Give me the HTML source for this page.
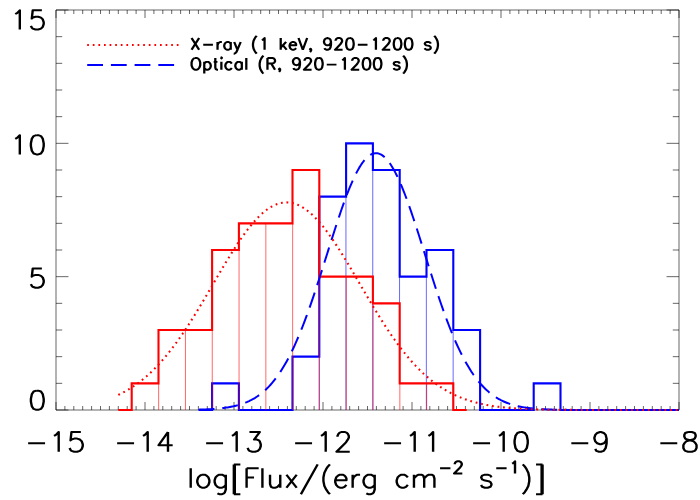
<!DOCTYPE html>
<html><head><meta charset="utf-8"><title>Flux histogram</title>
<style>html,body{margin:0;padding:0;background:#fff;font-family:"Liberation Sans",sans-serif}svg{display:block}</style>
</head><body>
<svg width="700" height="500" viewBox="0 0 700 500" role="img" aria-label="Histogram of log[Flux/(erg cm^-2 s^-1)]: X-ray (1 keV, 920-1200 s) and Optical (R, 920-1200 s)">
<desc>X-ray (1 keV, 920-1200 s); Optical (R, 920-1200 s); x axis log[Flux/(erg cm-2 s-1)] from -15 to -8; y axis 0 to 15</desc>
<rect width="700" height="500" fill="#fff"/>
<path d="M56.00 10.00 H679.00 V410.00 H56.00 Z M56.00 410.00 v-8.00 M56.00 10.00 v8.00 M64.90 410.00 v-4.00 M64.90 10.00 v4.00 M73.80 410.00 v-4.00 M73.80 10.00 v4.00 M82.70 410.00 v-4.00 M82.70 10.00 v4.00 M91.60 410.00 v-4.00 M91.60 10.00 v4.00 M100.50 410.00 v-4.00 M100.50 10.00 v4.00 M109.40 410.00 v-4.00 M109.40 10.00 v4.00 M118.30 410.00 v-4.00 M118.30 10.00 v4.00 M127.20 410.00 v-4.00 M127.20 10.00 v4.00 M136.10 410.00 v-4.00 M136.10 10.00 v4.00 M145.00 410.00 v-8.00 M145.00 10.00 v8.00 M153.90 410.00 v-4.00 M153.90 10.00 v4.00 M162.80 410.00 v-4.00 M162.80 10.00 v4.00 M171.70 410.00 v-4.00 M171.70 10.00 v4.00 M180.60 410.00 v-4.00 M180.60 10.00 v4.00 M189.50 410.00 v-4.00 M189.50 10.00 v4.00 M198.40 410.00 v-4.00 M198.40 10.00 v4.00 M207.30 410.00 v-4.00 M207.30 10.00 v4.00 M216.20 410.00 v-4.00 M216.20 10.00 v4.00 M225.10 410.00 v-4.00 M225.10 10.00 v4.00 M234.00 410.00 v-8.00 M234.00 10.00 v8.00 M242.90 410.00 v-4.00 M242.90 10.00 v4.00 M251.80 410.00 v-4.00 M251.80 10.00 v4.00 M260.70 410.00 v-4.00 M260.70 10.00 v4.00 M269.60 410.00 v-4.00 M269.60 10.00 v4.00 M278.50 410.00 v-4.00 M278.50 10.00 v4.00 M287.40 410.00 v-4.00 M287.40 10.00 v4.00 M296.30 410.00 v-4.00 M296.30 10.00 v4.00 M305.20 410.00 v-4.00 M305.20 10.00 v4.00 M314.10 410.00 v-4.00 M314.10 10.00 v4.00 M323.00 410.00 v-8.00 M323.00 10.00 v8.00 M331.90 410.00 v-4.00 M331.90 10.00 v4.00 M340.80 410.00 v-4.00 M340.80 10.00 v4.00 M349.70 410.00 v-4.00 M349.70 10.00 v4.00 M358.60 410.00 v-4.00 M358.60 10.00 v4.00 M367.50 410.00 v-4.00 M367.50 10.00 v4.00 M376.40 410.00 v-4.00 M376.40 10.00 v4.00 M385.30 410.00 v-4.00 M385.30 10.00 v4.00 M394.20 410.00 v-4.00 M394.20 10.00 v4.00 M403.10 410.00 v-4.00 M403.10 10.00 v4.00 M412.00 410.00 v-8.00 M412.00 10.00 v8.00 M420.90 410.00 v-4.00 M420.90 10.00 v4.00 M429.80 410.00 v-4.00 M429.80 10.00 v4.00 M438.70 410.00 v-4.00 M438.70 10.00 v4.00 M447.60 410.00 v-4.00 M447.60 10.00 v4.00 M456.50 410.00 v-4.00 M456.50 10.00 v4.00 M465.40 410.00 v-4.00 M465.40 10.00 v4.00 M474.30 410.00 v-4.00 M474.30 10.00 v4.00 M483.20 410.00 v-4.00 M483.20 10.00 v4.00 M492.10 410.00 v-4.00 M492.10 10.00 v4.00 M501.00 410.00 v-8.00 M501.00 10.00 v8.00 M509.90 410.00 v-4.00 M509.90 10.00 v4.00 M518.80 410.00 v-4.00 M518.80 10.00 v4.00 M527.70 410.00 v-4.00 M527.70 10.00 v4.00 M536.60 410.00 v-4.00 M536.60 10.00 v4.00 M545.50 410.00 v-4.00 M545.50 10.00 v4.00 M554.40 410.00 v-4.00 M554.40 10.00 v4.00 M563.30 410.00 v-4.00 M563.30 10.00 v4.00 M572.20 410.00 v-4.00 M572.20 10.00 v4.00 M581.10 410.00 v-4.00 M581.10 10.00 v4.00 M590.00 410.00 v-8.00 M590.00 10.00 v8.00 M598.90 410.00 v-4.00 M598.90 10.00 v4.00 M607.80 410.00 v-4.00 M607.80 10.00 v4.00 M616.70 410.00 v-4.00 M616.70 10.00 v4.00 M625.60 410.00 v-4.00 M625.60 10.00 v4.00 M634.50 410.00 v-4.00 M634.50 10.00 v4.00 M643.40 410.00 v-4.00 M643.40 10.00 v4.00 M652.30 410.00 v-4.00 M652.30 10.00 v4.00 M661.20 410.00 v-4.00 M661.20 10.00 v4.00 M670.10 410.00 v-4.00 M670.10 10.00 v4.00 M679.00 410.00 v-8.00 M679.00 10.00 v8.00 M56.00 410.00 h12.46 M679.00 410.00 h-12.46 M56.00 383.33 h6.23 M679.00 383.33 h-6.23 M56.00 356.67 h6.23 M679.00 356.67 h-6.23 M56.00 330.00 h6.23 M679.00 330.00 h-6.23 M56.00 303.33 h6.23 M679.00 303.33 h-6.23 M56.00 276.67 h12.46 M679.00 276.67 h-12.46 M56.00 250.00 h6.23 M679.00 250.00 h-6.23 M56.00 223.33 h6.23 M679.00 223.33 h-6.23 M56.00 196.67 h6.23 M679.00 196.67 h-6.23 M56.00 170.00 h6.23 M679.00 170.00 h-6.23 M56.00 143.33 h12.46 M679.00 143.33 h-12.46 M56.00 116.67 h6.23 M679.00 116.67 h-6.23 M56.00 90.00 h6.23 M679.00 90.00 h-6.23 M56.00 63.33 h6.23 M679.00 63.33 h-6.23 M56.00 36.67 h6.23 M679.00 36.67 h-6.23 M56.00 10.00 h12.46 M679.00 10.00 h-12.46" stroke="#000" stroke-width="0.60" fill="none"/>
<g id="hist">
<path d="M319.15 410.00 V356.67 M345.95 410.00 V196.67 M372.75 410.00 V170.00 M399.55 383.33 V276.67 M426.35 410.00 V276.67 M453.15 410.00 V330.00" stroke="#00f" stroke-width="0.60" fill="none"/>
<path d="M198.70 410.00 H212.10 V383.33 H238.90 V410.00 H265.70 H292.50 V356.67 H319.30 V196.67 H346.10 V143.33 H372.90 V170.00 H399.70 V276.67 H426.50 V250.00 H453.30 V330.00 H480.10 V410.00 H506.90 H533.70 V383.33 H560.50 V410.00 H587.30 H679.00" stroke="#00f" stroke-width="2.10" fill="none" stroke-linejoin="miter" stroke-linecap="butt"/>
<path d="M158.65 410.00 V383.33 M185.45 410.00 V330.00 M212.25 410.00 V330.00 M239.05 410.00 V250.00 M265.85 410.00 V223.33 M292.65 410.00 V223.33 M319.45 410.00 V276.67 M346.25 410.00 V276.67 M373.05 410.00 V303.33 M399.85 410.00 V383.33 M426.65 410.00 V383.33" stroke="#f00" stroke-width="0.60" fill="none"/>
<path d="M118.30 410.00 H131.70 V383.33 H158.50 V330.00 H185.30 H212.10 V250.00 H238.90 V223.33 H265.70 H292.50 V170.00 H319.30 V276.67 H346.10 H372.90 V303.33 H399.70 V383.33 H426.50 H453.30 V410.00 H466.70" stroke="#f00" stroke-width="2.10" fill="none" stroke-linejoin="miter" stroke-linecap="butt"/>
</g>
<path d="M198.70 409.64 L199.90 409.60 L201.10 409.56 L202.30 409.52 L203.50 409.48 L204.70 409.44 L205.90 409.38 L207.11 409.33 L208.31 409.27 L209.51 409.21 L210.71 409.14 L211.91 409.07 L213.11 408.99 L214.31 408.90 L215.51 408.81 L216.71 408.71 L217.91 408.60 L219.11 408.49 L220.31 408.36 L221.51 408.23 L222.71 408.09 L223.92 407.94 L225.12 407.77 L226.32 407.60 L227.52 407.41 L228.72 407.21 L229.92 407.00 L231.12 406.77 L232.32 406.53 L233.52 406.28 L234.72 406.00 L235.92 405.71 L237.12 405.40 L238.32 405.07 L239.53 404.72 L240.73 404.35 L241.93 403.95 L243.13 403.53 L244.33 403.09 L245.53 402.62 L246.73 402.13 L247.93 401.60 L249.13 401.05 L250.33 400.46 L251.53 399.85 L252.73 399.20 L253.93 398.51 L255.14 397.79 L256.34 397.03 L257.54 396.24 L258.74 395.40 L259.94 394.52 L261.14 393.60 L262.34 392.63 L263.54 391.62 L264.74 390.56 L265.94 389.45 L267.14 388.29 L268.34 387.08 L269.54 385.82 L270.74 384.51 L271.95 383.13 L273.15 381.70 L274.35 380.22 L275.55 378.67 L276.75 377.06 L277.95 375.40 L279.15 373.66 L280.35 371.87 L281.55 370.01 L282.75 368.09 L283.95 366.09 L285.15 364.04 L286.35 361.91 L287.56 359.72 L288.76 357.46 L289.96 355.13 L291.16 352.73 L292.36 350.26 L293.56 347.72 L294.76 345.12 L295.96 342.44 L297.16 339.70 L298.36 336.89 L299.56 334.01 L300.76 331.07 L301.96 328.07 L303.17 325.00 L304.37 321.87 L305.57 318.67 L306.77 315.42 L307.97 312.12 L309.17 308.76 L310.37 305.34 L311.57 301.88 L312.77 298.36 L313.97 294.81 L315.17 291.21 L316.37 287.57 L317.57 283.90 L318.77 280.20 L319.98 276.46 L321.18 272.70 L322.38 268.93 L323.58 265.13 L324.78 261.32 L325.98 257.51 L327.18 253.69 L328.38 249.87 L329.58 246.05 L330.78 242.25 L331.98 238.46 L333.18 234.69 L334.38 230.94 L335.59 227.23 L336.79 223.55 L337.99 219.91 L339.19 216.32 L340.39 212.78 L341.59 209.29 L342.79 205.87 L343.99 202.51 L345.19 199.22 L346.39 196.01 L347.59 192.88 L348.79 189.84 L349.99 186.89 L351.20 184.04 L352.40 181.28 L353.60 178.64 L354.80 176.10 L356.00 173.68 L357.20 171.38 L358.40 169.19 L359.60 167.14 L360.80 165.22 L362.00 163.42 L363.20 161.77 L364.40 160.25 L365.60 158.88 L366.80 157.65 L368.01 156.56 L369.21 155.63 L370.41 154.84 L371.61 154.21 L372.81 153.73 L374.01 153.40 L375.21 153.23 L376.41 153.21 L377.61 153.35 L378.81 153.64 L380.01 154.08 L381.21 154.68 L382.41 155.43 L383.62 156.33 L384.82 157.37 L386.02 158.57 L387.22 159.91 L388.42 161.39 L389.62 163.01 L390.82 164.77 L392.02 166.67 L393.22 168.69 L394.42 170.84 L395.62 173.11 L396.82 175.51 L398.02 178.02 L399.23 180.64 L400.43 183.37 L401.63 186.20 L402.83 189.12 L404.03 192.14 L405.23 195.25 L406.43 198.44 L407.63 201.71 L408.83 205.05 L410.03 208.46 L411.23 211.93 L412.43 215.46 L413.63 219.04 L414.83 222.67 L416.04 226.34 L417.24 230.05 L418.44 233.79 L419.64 237.55 L420.84 241.33 L422.04 245.14 L423.24 248.95 L424.44 252.77 L425.64 256.59 L426.84 260.40 L428.04 264.22 L429.24 268.01 L430.44 271.80 L431.65 275.56 L432.85 279.30 L434.05 283.01 L435.25 286.69 L436.45 290.34 L437.65 293.95 L438.85 297.51 L440.05 301.04 L441.25 304.51 L442.45 307.94 L443.65 311.31 L444.85 314.63 L446.05 317.90 L447.26 321.10 L448.46 324.25 L449.66 327.33 L450.86 330.36 L452.06 333.31 L453.26 336.20 L454.46 339.03 L455.66 341.79 L456.86 344.48 L458.06 347.10 L459.26 349.66 L460.46 352.14 L461.66 354.56 L462.87 356.90 L464.07 359.18 L465.27 361.39 L466.47 363.53 L467.67 365.61 L468.87 367.61 L470.07 369.55 L471.27 371.43 L472.47 373.24 L473.67 374.98 L474.87 376.67 L476.07 378.29 L477.27 379.85 L478.47 381.35 L479.68 382.79 L480.88 384.18 L482.08 385.51 L483.28 386.79 L484.48 388.01 L485.68 389.18 L486.88 390.30 L488.08 391.37 L489.28 392.39 L490.48 393.37 L491.68 394.30 L492.88 395.19 L494.08 396.04 L495.29 396.84 L496.49 397.61 L497.69 398.34 L498.89 399.03 L500.09 399.69 L501.29 400.32 L502.49 400.91 L503.69 401.47 L504.89 402.00 L506.09 402.50 L507.29 402.98 L508.49 403.43 L509.69 403.85 L510.89 404.25 L512.10 404.63 L513.30 404.99 L514.50 405.32 L515.70 405.64 L516.90 405.93 L518.10 406.21 L519.30 406.47 L520.50 406.72 L521.70 406.95 L522.90 407.16 L524.10 407.37 L525.30 407.56 L526.50 407.73 L527.71 407.90 L528.91 408.05 L530.11 408.20 L531.31 408.33 L532.51 408.46 L533.71 408.57 L534.91 408.68 L536.11 408.78 L537.31 408.88 L538.51 408.97 L539.71 409.05 L540.91 409.12 L542.11 409.19 L543.32 409.26 L544.52 409.32 L545.72 409.37 L546.92 409.42 L548.12 409.47 L549.32 409.51 L550.52 409.56 L551.72 409.59 L552.92 409.63 L554.12 409.66 L555.32 409.69 L556.52 409.72 L557.72 409.74 L558.92 409.76 L560.13 409.78 L561.33 409.80 L562.53 409.82 L563.73 409.84 L564.93 409.85 L566.13 409.86 L567.33 409.88 L568.53 409.89 L569.73 409.90 L570.93 409.91 L572.13 409.92 L573.33 409.92 L574.53 409.93 L575.74 409.94 L576.94 409.94 L578.14 409.95 L579.34 409.95 L580.54 409.96 L581.74 409.96 L582.94 409.97 L584.14 409.97 L585.34 409.97 L586.54 409.98 L587.74 409.98 L588.94 409.98 L590.14 409.98 L591.35 409.98 L592.55 409.99 L593.75 409.99 L594.95 409.99 L596.15 409.99 L597.35 409.99 L598.55 409.99 L599.75 409.99 L600.95 409.99 L602.15 409.99 L603.35 409.99 L604.55 410.00 L605.75 410.00 L606.96 410.00 L608.16 410.00 L609.36 410.00 L610.56 410.00 L611.76 410.00 L612.96 410.00 L614.16 410.00 L615.36 410.00 L616.56 410.00 L617.76 410.00 L618.96 410.00 L620.16 410.00 L621.36 410.00 L622.56 410.00 L623.77 410.00 L624.97 410.00 L626.17 410.00 L627.37 410.00 L628.57 410.00 L629.77 410.00 L630.97 410.00 L632.17 410.00 L633.37 410.00 L634.57 410.00 L635.77 410.00 L636.97 410.00 L638.17 410.00 L639.38 410.00 L640.58 410.00 L641.78 410.00 L642.98 410.00 L644.18 410.00 L645.38 410.00 L646.58 410.00 L647.78 410.00 L648.98 410.00 L650.18 410.00 L651.38 410.00 L652.58 410.00 L653.78 410.00 L654.99 410.00 L656.19 410.00 L657.39 410.00 L658.59 410.00 L659.79 410.00 L660.99 410.00 L662.19 410.00 L663.39 410.00 L664.59 410.00 L665.79 410.00 L666.99 410.00 L668.19 410.00 L669.39 410.00 L670.59 410.00 L671.80 410.00 L673.00 410.00 L674.20 410.00 L675.40 410.00 L676.60 410.00 L677.80 410.00 L679.00 410.00" stroke="#00f" stroke-width="2" fill="none" stroke-dasharray="15.8 7.86"/>
<path d="M118.30 394.95 L119.70 394.28 L121.10 393.58 L122.51 392.87 L123.91 392.12 L125.31 391.35 L126.71 390.56 L128.11 389.74 L129.51 388.89 L130.92 388.02 L132.32 387.11 L133.72 386.18 L135.12 385.22 L136.52 384.23 L137.92 383.21 L139.33 382.16 L140.73 381.08 L142.13 379.97 L143.53 378.82 L144.93 377.65 L146.33 376.44 L147.74 375.20 L149.14 373.93 L150.54 372.63 L151.94 371.29 L153.34 369.92 L154.75 368.51 L156.15 367.07 L157.55 365.60 L158.95 364.10 L160.35 362.56 L161.75 360.98 L163.16 359.38 L164.56 357.74 L165.96 356.06 L167.36 354.36 L168.76 352.61 L170.16 350.84 L171.57 349.04 L172.97 347.20 L174.37 345.33 L175.77 343.43 L177.17 341.49 L178.58 339.53 L179.98 337.54 L181.38 335.52 L182.78 333.47 L184.18 331.39 L185.58 329.28 L186.99 327.15 L188.39 325.00 L189.79 322.82 L191.19 320.61 L192.59 318.39 L193.99 316.14 L195.40 313.87 L196.80 311.58 L198.20 309.28 L199.60 306.96 L201.00 304.62 L202.40 302.28 L203.81 299.91 L205.21 297.54 L206.61 295.16 L208.01 292.77 L209.41 290.37 L210.82 287.97 L212.22 285.57 L213.62 283.17 L215.02 280.77 L216.42 278.36 L217.82 275.97 L219.23 273.58 L220.63 271.20 L222.03 268.82 L223.43 266.46 L224.83 264.12 L226.23 261.78 L227.64 259.47 L229.04 257.18 L230.44 254.90 L231.84 252.66 L233.24 250.43 L234.65 248.24 L236.05 246.07 L237.45 243.93 L238.85 241.83 L240.25 239.77 L241.65 237.74 L243.06 235.75 L244.46 233.80 L245.86 231.90 L247.26 230.04 L248.66 228.23 L250.06 226.46 L251.47 224.75 L252.87 223.09 L254.27 221.48 L255.67 219.93 L257.07 218.43 L258.47 216.99 L259.88 215.62 L261.28 214.30 L262.68 213.05 L264.08 211.86 L265.48 210.74 L266.89 209.68 L268.29 208.70 L269.69 207.78 L271.09 206.93 L272.49 206.15 L273.89 205.44 L275.30 204.81 L276.70 204.25 L278.10 203.76 L279.50 203.34 L280.90 203.00 L282.30 202.74 L283.71 202.55 L285.11 202.44 L286.51 202.40 L287.91 202.44 L289.31 202.55 L290.72 202.74 L292.12 203.00 L293.52 203.34 L294.92 203.76 L296.32 204.25 L297.72 204.81 L299.13 205.44 L300.53 206.15 L301.93 206.93 L303.33 207.78 L304.73 208.70 L306.13 209.68 L307.54 210.74 L308.94 211.86 L310.34 213.05 L311.74 214.30 L313.14 215.62 L314.54 216.99 L315.95 218.43 L317.35 219.93 L318.75 221.48 L320.15 223.09 L321.55 224.75 L322.96 226.46 L324.36 228.23 L325.76 230.04 L327.16 231.90 L328.56 233.80 L329.96 235.75 L331.37 237.74 L332.77 239.77 L334.17 241.83 L335.57 243.93 L336.97 246.07 L338.37 248.24 L339.78 250.43 L341.18 252.66 L342.58 254.90 L343.98 257.18 L345.38 259.47 L346.79 261.78 L348.19 264.12 L349.59 266.46 L350.99 268.82 L352.39 271.20 L353.79 273.58 L355.20 275.97 L356.60 278.36 L358.00 280.77 L359.40 283.17 L360.80 285.57 L362.20 287.97 L363.61 290.37 L365.01 292.77 L366.41 295.16 L367.81 297.54 L369.21 299.91 L370.62 302.28 L372.02 304.62 L373.42 306.96 L374.82 309.28 L376.22 311.58 L377.62 313.87 L379.03 316.14 L380.43 318.39 L381.83 320.61 L383.23 322.82 L384.63 325.00 L386.03 327.15 L387.44 329.28 L388.84 331.39 L390.24 333.47 L391.64 335.52 L393.04 337.54 L394.44 339.53 L395.85 341.49 L397.25 343.43 L398.65 345.33 L400.05 347.20 L401.45 349.04 L402.86 350.84 L404.26 352.61 L405.66 354.36 L407.06 356.06 L408.46 357.74 L409.86 359.38 L411.27 360.98 L412.67 362.56 L414.07 364.10 L415.47 365.60 L416.87 367.07 L418.27 368.51 L419.68 369.92 L421.08 371.29 L422.48 372.63 L423.88 373.93 L425.28 375.20 L426.68 376.44 L428.09 377.65 L429.49 378.82 L430.89 379.97 L432.29 381.08 L433.69 382.16 L435.10 383.21 L436.50 384.23 L437.90 385.22 L439.30 386.18 L440.70 387.11 L442.10 388.02 L443.51 388.89 L444.91 389.74 L446.31 390.56 L447.71 391.35 L449.11 392.12 L450.51 392.87 L451.92 393.58 L453.32 394.28 L454.72 394.95 L456.12 395.60 L457.52 396.22 L458.93 396.82 L460.33 397.40 L461.73 397.96 L463.13 398.50 L464.53 399.02 L465.93 399.52 L467.34 399.99 L468.74 400.46 L470.14 400.90 L471.54 401.33 L472.94 401.73 L474.34 402.13 L475.75 402.50 L477.15 402.86 L478.55 403.21 L479.95 403.54 L481.35 403.86 L482.75 404.16 L484.16 404.46 L485.56 404.73 L486.96 405.00 L488.36 405.26 L489.76 405.50 L491.17 405.73 L492.57 405.95 L493.97 406.17 L495.37 406.37 L496.77 406.56 L498.17 406.74 L499.58 406.92 L500.98 407.09 L502.38 407.24 L503.78 407.39 L505.18 407.54 L506.58 407.67 L507.99 407.80 L509.39 407.93 L510.79 408.04 L512.19 408.16 L513.59 408.26 L515.00 408.36 L516.40 408.46 L517.80 408.55 L519.20 408.63 L520.60 408.71 L522.00 408.79 L523.41 408.86 L524.81 408.93 L526.21 408.99 L527.61 409.05 L529.01 409.11 L530.41 409.17 L531.82 409.22 L533.22 409.27 L534.62 409.31 L536.02 409.35 L537.42 409.40 L538.83 409.43 L540.23 409.47 L541.63 409.50 L543.03 409.54 L544.43 409.57 L545.83 409.59 L547.24 409.62 L548.64 409.65 L550.04 409.67 L551.44 409.69 L552.84 409.71 L554.24 409.73 L555.65 409.75 L557.05 409.77 L558.45 409.78 L559.85 409.80 L561.25 409.81 L562.65 409.82 L564.06 409.84 L565.46 409.85 L566.86 409.86 L568.26 409.87 L569.66 409.88 L571.07 409.89 L572.47 409.89 L573.87 409.90 L575.27 409.91 L576.67 409.92 L578.07 409.92 L579.48 409.93 L580.88 409.93 L582.28 409.94 L583.68 409.94 L585.08 409.95 L586.48 409.95 L587.89 409.95 L589.29 409.96 L590.69 409.96 L592.09 409.96 L593.49 409.97 L594.89 409.97 L596.30 409.97 L597.70 409.97 L599.10 409.98 L600.50 409.98 L601.90 409.98 L603.31 409.98 L604.71 409.98 L606.11 409.98 L607.51 409.99 L608.91 409.99 L610.31 409.99 L611.72 409.99 L613.12 409.99 L614.52 409.99 L615.92 409.99 L617.32 409.99 L618.72 409.99 L620.13 409.99 L621.53 409.99 L622.93 409.99 L624.33 409.99 L625.73 410.00 L627.14 410.00 L628.54 410.00 L629.94 410.00 L631.34 410.00 L632.74 410.00 L634.14 410.00 L635.55 410.00 L636.95 410.00 L638.35 410.00 L639.75 410.00 L641.15 410.00 L642.55 410.00 L643.96 410.00 L645.36 410.00 L646.76 410.00 L648.16 410.00 L649.56 410.00 L650.97 410.00 L652.37 410.00 L653.77 410.00 L655.17 410.00 L656.57 410.00 L657.97 410.00 L659.38 410.00 L660.78 410.00 L662.18 410.00 L663.58 410.00 L664.98 410.00 L666.38 410.00 L667.79 410.00 L669.19 410.00 L670.59 410.00 L671.99 410.00 L673.39 410.00 L674.79 410.00 L676.20 410.00 L677.60 410.00 L679.00 410.00" stroke="#f00" stroke-width="2.05" fill="none" stroke-dasharray="1.8 3.77"/>
<path d="M87.2 44.9 H178.6" stroke="#f00" stroke-width="2" fill="none" stroke-dasharray="1.7 3.9"/>
<path d="M87.2 65 H178.6" stroke="#00f" stroke-width="2" fill="none" stroke-dasharray="15.8 7.9"/>
<path transform="scale(1.2000,1)" d="M12.70 14.00 L14.23 13.08 L16.51 10.34 L16.51 29.55 M34.90 10.34 L27.27 10.34 L26.51 18.57 L27.27 17.66 L29.56 16.74 L31.85 16.74 L34.13 17.66 L35.66 19.48 L36.42 22.23 L36.42 24.06 L35.66 26.80 L34.13 28.64 L31.85 29.55 L29.56 29.55 L27.27 28.64 L26.51 27.72 L25.75 25.89 M12.70 138.84 L14.23 137.93 L16.51 135.19 L16.51 154.40 M30.32 135.19 L28.03 136.10 L26.51 138.84 L25.75 143.42 L25.75 146.17 L26.51 150.74 L28.03 153.49 L30.32 154.40 L31.85 154.40 L34.13 153.49 L35.66 150.74 L36.42 146.17 L36.42 143.42 L35.66 138.84 L34.13 136.10 L31.85 135.19 L30.32 135.19 M34.90 268.49 L27.27 268.49 L26.51 276.72 L27.27 275.81 L29.56 274.89 L31.85 274.89 L34.13 275.81 L35.66 277.63 L36.42 280.38 L36.42 282.21 L35.66 284.95 L34.13 286.78 L31.85 287.70 L29.56 287.70 L27.27 286.78 L26.51 285.87 L25.75 284.04 M30.32 390.64 L28.03 391.55 L26.51 394.30 L25.75 398.87 L25.75 401.62 L26.51 406.19 L28.03 408.94 L30.32 409.85 L31.85 409.85 L34.13 408.94 L35.66 406.19 L36.42 401.62 L36.42 398.87 L35.66 394.30 L34.13 391.55 L31.85 390.64 L30.32 390.64 M23.45 443.29 L37.55 443.29 M45.00 435.77 L46.57 434.83 L48.92 432.01 L48.92 451.75 M67.38 432.01 L59.55 432.01 L58.77 440.47 L59.55 439.53 L61.90 438.59 L64.25 438.59 L66.60 439.53 L68.17 441.41 L68.95 444.23 L68.95 446.11 L68.17 448.93 L66.60 450.81 L64.25 451.75 L61.90 451.75 L59.55 450.81 L58.77 449.87 L57.98 447.99 M97.62 443.29 L111.72 443.29 M119.17 435.77 L120.73 434.83 L123.08 432.01 L123.08 451.75 M139.98 432.01 L132.15 445.17 L143.90 445.17 M139.98 432.01 L139.98 451.75 M171.78 443.29 L185.88 443.29 M193.33 435.77 L194.90 434.83 L197.25 432.01 L197.25 451.75 M207.88 432.01 L216.50 432.01 L211.80 439.53 L214.15 439.53 L215.72 440.47 L216.50 441.41 L217.28 444.23 L217.28 446.11 L216.50 448.93 L214.93 450.81 L212.58 451.75 L210.23 451.75 L207.88 450.81 L207.10 449.87 L206.32 447.99 M245.95 443.29 L260.05 443.29 M267.50 435.77 L269.07 434.83 L271.42 432.01 L271.42 451.75 M281.27 436.71 L281.27 435.77 L282.05 433.89 L282.83 432.95 L284.40 432.01 L287.53 432.01 L289.10 432.95 L289.88 433.89 L290.67 435.77 L290.67 437.65 L289.88 439.53 L288.32 442.35 L280.48 451.75 L291.45 451.75 M320.12 443.29 L334.22 443.29 M341.67 435.77 L343.23 434.83 L345.58 432.01 L345.58 451.75 M357.00 435.77 L358.57 434.83 L360.92 432.01 L360.92 451.75 M394.28 443.29 L408.38 443.29 M415.83 435.77 L417.40 434.83 L419.75 432.01 L419.75 451.75 M433.52 432.01 L431.17 432.95 L429.60 435.77 L428.82 440.47 L428.82 443.29 L429.60 447.99 L431.17 450.81 L433.52 451.75 L435.08 451.75 L437.43 450.81 L439.00 447.99 L439.78 443.29 L439.78 440.47 L439.00 435.77 L437.43 432.95 L435.08 432.01 L433.52 432.01 M476.12 443.29 L490.22 443.29 M505.50 438.59 L504.72 441.41 L503.15 443.29 L500.80 444.23 L500.02 444.23 L497.67 443.29 L496.10 441.41 L495.32 438.59 L495.32 437.65 L496.10 434.83 L497.67 432.95 L500.02 432.01 L500.80 432.01 L503.15 432.95 L504.72 434.83 L505.50 438.59 L505.50 443.29 L504.72 447.99 L503.15 450.81 L500.80 451.75 L499.23 451.75 L496.88 450.81 L496.10 448.93 M550.28 443.29 L564.38 443.29 M573.40 432.01 L571.05 432.95 L570.27 434.83 L570.27 436.71 L571.05 438.59 L572.62 439.53 L575.75 440.47 L578.10 441.41 L579.67 443.29 L580.45 445.17 L580.45 447.99 L579.67 449.87 L578.88 450.81 L576.53 451.75 L573.40 451.75 L571.05 450.81 L570.27 449.87 L569.48 447.99 L569.48 445.17 L570.27 443.29 L571.83 441.41 L574.18 440.47 L577.32 439.53 L578.88 438.59 L579.67 436.71 L579.67 434.83 L578.88 432.95 L576.53 432.01 L573.40 432.01" stroke="#000" stroke-width="2.00" fill="none" stroke-linecap="butt" stroke-linejoin="round"/>
<path transform="scale(1.2000,1)" d="M158.92 468.17 L158.92 487.70 M168.28 474.68 L166.73 475.61 L165.18 477.47 L164.40 480.26 L164.40 482.12 L165.18 484.91 L166.73 486.77 L168.28 487.70 L170.60 487.70 L172.15 486.77 L173.70 484.91 L174.48 482.12 L174.48 480.26 L173.70 477.47 L172.15 475.61 L170.60 474.68 L168.28 474.68 M188.16 474.68 L188.16 489.56 L187.38 492.35 L186.61 493.28 L185.06 494.21 L182.73 494.21 L181.18 493.28 M188.16 477.47 L186.61 475.61 L185.06 474.68 L182.73 474.68 L181.18 475.61 L179.63 477.47 L178.86 480.26 L178.86 482.12 L179.63 484.91 L181.18 486.77 L182.73 487.70 L185.06 487.70 L186.61 486.77 L188.16 484.91 M194.87 464.45 L194.87 494.21 M195.65 464.45 L195.65 494.21 M194.87 464.45 L200.30 464.45 M194.87 494.21 L200.30 494.21 M205.50 468.17 L205.50 487.70 M205.50 468.17 L215.57 468.17 M205.50 477.47 L211.70 477.47 M218.68 468.17 L218.68 487.70 M225.02 474.68 L225.02 483.98 L225.80 486.77 L227.35 487.70 L229.67 487.70 L231.22 486.77 L233.55 483.98 M233.55 474.68 L233.55 487.70 M238.72 474.68 L247.24 487.70 M247.24 474.68 L238.72 487.70 M264.71 464.45 L250.76 494.21 M274.94 464.45 L273.39 466.31 L271.84 469.10 L270.29 472.82 L269.52 477.47 L269.52 481.19 L270.29 485.84 L271.84 489.56 L273.39 492.35 L274.94 494.21 M279.37 480.26 L288.67 480.26 L288.67 478.40 L287.89 476.54 L287.12 475.61 L285.57 474.68 L283.24 474.68 L281.69 475.61 L280.14 477.47 L279.37 480.26 L279.37 482.12 L280.14 484.91 L281.69 486.77 L283.24 487.70 L285.57 487.70 L287.12 486.77 L288.67 484.91 M293.87 474.68 L293.87 487.70 M293.87 480.26 L294.65 477.47 L296.20 475.61 L297.75 474.68 L300.07 474.68 M312.25 474.68 L312.25 489.56 L311.47 492.35 L310.70 493.28 L309.15 494.21 L306.82 494.21 L305.27 493.28 M312.25 477.47 L310.70 475.61 L309.15 474.68 L306.82 474.68 L305.27 475.61 L303.72 477.47 L302.95 480.26 L302.95 482.12 L303.72 484.91 L305.27 486.77 L306.82 487.70 L309.15 487.70 L310.70 486.77 L312.25 484.91 M339.88 477.47 L338.33 475.61 L336.78 474.68 L334.46 474.68 L332.91 475.61 L331.36 477.47 L330.58 480.26 L330.58 482.12 L331.36 484.91 L332.91 486.77 L334.46 487.70 L336.78 487.70 L338.33 486.77 L339.88 484.91 M344.97 474.68 L344.97 487.70 M344.97 478.40 L347.29 475.61 L348.84 474.68 L351.17 474.68 L352.72 475.61 L353.49 478.40 L353.49 487.70 M353.49 478.40 L355.82 475.61 L357.37 474.68 L359.69 474.68 L361.24 475.61 L362.02 478.40 L362.02 487.70 M366.71 468.21 L375.36 468.21 M379.00 464.17 L379.00 463.60 L379.48 462.44 L379.96 461.87 L380.93 461.29 L382.85 461.29 L383.81 461.87 L384.29 462.44 L384.77 463.60 L384.77 464.75 L384.29 465.90 L383.33 467.63 L378.52 473.40 L385.25 473.40 M409.51 477.47 L408.73 475.61 L406.41 474.68 L404.08 474.68 L401.76 475.61 L400.98 477.47 L401.76 479.33 L403.31 480.26 L407.18 481.19 L408.73 482.12 L409.51 483.98 L409.51 484.91 L408.73 486.77 L406.41 487.70 L404.08 487.70 L401.76 486.77 L400.98 484.91 M413.52 468.21 L422.17 468.21 M426.77 463.60 L427.73 463.02 L429.17 461.29 L429.17 473.40 M435.64 464.45 L437.19 466.31 L438.74 469.10 L440.29 472.82 L441.06 477.47 L441.06 481.19 L440.29 485.84 L438.74 489.56 L437.19 492.35 L435.64 494.21 M451.35 464.45 L451.35 494.21 M452.13 464.45 L452.13 494.21 M446.70 464.45 L452.13 464.45 M446.70 494.21 L452.13 494.21" stroke="#000" stroke-width="2.00" fill="none" stroke-linecap="butt" stroke-linejoin="round"/>
<path transform="scale(1.2000,1)" d="M159.63 38.04 L165.93 49.80 M165.93 38.04 L159.63 49.80 M169.35 44.76 L177.45 44.76 M181.28 41.96 L181.28 49.80 M181.28 45.32 L181.73 43.64 L182.63 42.52 L183.53 41.96 L184.88 41.96 M192.27 41.96 L192.27 49.80 M192.27 43.64 L191.37 42.52 L190.47 41.96 L189.12 41.96 L188.22 42.52 L187.32 43.64 L186.87 45.32 L186.87 46.44 L187.32 48.12 L188.22 49.24 L189.12 49.80 L190.47 49.80 L191.37 49.24 L192.27 48.12 M195.17 41.96 L197.87 49.80 M200.57 41.96 L197.87 49.80 L196.97 52.04 L196.07 53.16 L195.17 53.72 L194.72 53.72 M213.98 35.80 L213.08 36.92 L212.18 38.60 L211.28 40.84 L210.83 43.64 L210.83 45.88 L211.28 48.68 L212.18 50.92 L213.08 52.60 L213.98 53.72 M218.23 40.28 L219.13 39.72 L220.48 38.04 L220.48 49.80 M233.93 38.04 L233.93 49.80 M238.43 41.96 L233.93 47.56 M235.73 45.32 L238.88 49.80 M241.34 45.32 L246.74 45.32 L246.74 44.20 L246.29 43.08 L245.84 42.52 L244.94 41.96 L243.59 41.96 L242.69 42.52 L241.79 43.64 L241.34 45.32 L241.34 46.44 L241.79 48.12 L242.69 49.24 L243.59 49.80 L244.94 49.80 L245.84 49.24 L246.74 48.12 M248.75 38.04 L252.35 49.80 M255.95 38.04 L252.35 49.80 M259.26 49.24 L258.81 49.80 L258.36 49.24 L258.81 48.68 L259.26 49.24 L259.26 50.36 L258.81 51.48 L258.36 52.04 M275.82 41.96 L275.37 43.64 L274.47 44.76 L273.12 45.32 L272.67 45.32 L271.32 44.76 L270.42 43.64 L269.97 41.96 L269.97 41.40 L270.42 39.72 L271.32 38.60 L272.67 38.04 L273.12 38.04 L274.47 38.60 L275.37 39.72 L275.82 41.96 L275.82 44.76 L275.37 47.56 L274.47 49.24 L273.12 49.80 L272.22 49.80 L270.87 49.24 L270.42 48.12 M279.65 40.84 L279.65 40.28 L280.11 39.16 L280.55 38.60 L281.45 38.04 L283.25 38.04 L284.16 38.60 L284.60 39.16 L285.06 40.28 L285.06 41.40 L284.60 42.52 L283.70 44.20 L279.20 49.80 L285.50 49.80 M291.14 38.04 L289.79 38.60 L288.89 40.28 L288.44 43.08 L288.44 44.76 L288.89 47.56 L289.79 49.24 L291.14 49.80 L292.04 49.80 L293.39 49.24 L294.29 47.56 L294.74 44.76 L294.74 43.08 L294.29 40.28 L293.39 38.60 L292.04 38.04 L291.14 38.04 M298.16 44.76 L306.26 44.76 M311.02 40.28 L311.92 39.72 L313.27 38.04 L313.27 49.80 M319.36 40.84 L319.36 40.28 L319.81 39.16 L320.26 38.60 L321.16 38.04 L322.96 38.04 L323.86 38.60 L324.31 39.16 L324.76 40.28 L324.76 41.40 L324.31 42.52 L323.41 44.20 L318.91 49.80 L325.21 49.80 M330.84 38.04 L329.49 38.60 L328.59 40.28 L328.14 43.08 L328.14 44.76 L328.59 47.56 L329.49 49.24 L330.84 49.80 L331.74 49.80 L333.09 49.24 L333.99 47.56 L334.44 44.76 L334.44 43.08 L333.99 40.28 L333.09 38.60 L331.74 38.04 L330.84 38.04 M340.07 38.04 L338.72 38.60 L337.82 40.28 L337.37 43.08 L337.37 44.76 L337.82 47.56 L338.72 49.24 L340.07 49.80 L340.97 49.80 L342.32 49.24 L343.22 47.56 L343.67 44.76 L343.67 43.08 L343.22 40.28 L342.32 38.60 L340.97 38.04 L340.07 38.04 M358.93 43.64 L358.48 42.52 L357.13 41.96 L355.78 41.96 L354.43 42.52 L353.98 43.64 L354.43 44.76 L355.33 45.32 L357.58 45.88 L358.48 46.44 L358.93 47.56 L358.93 48.12 L358.48 49.24 L357.13 49.80 L355.78 49.80 L354.43 49.24 L353.98 48.12 M361.81 35.80 L362.71 36.92 L363.61 38.60 L364.51 40.84 L364.96 43.64 L364.96 45.88 L364.51 48.68 L363.61 50.92 L362.71 52.60 L361.81 53.72 M162.34 57.94 L161.45 58.50 L160.55 59.62 L160.09 60.74 L159.65 62.42 L159.65 65.22 L160.09 66.90 L160.55 68.02 L161.45 69.14 L162.34 69.70 L164.15 69.70 L165.05 69.14 L165.95 68.02 L166.40 66.90 L166.84 65.22 L166.84 62.42 L166.40 60.74 L165.95 59.62 L165.05 58.50 L164.15 57.94 L162.34 57.94 M170.23 61.86 L170.23 73.62 M170.23 63.54 L171.13 62.42 L172.03 61.86 L173.38 61.86 L174.28 62.42 L175.18 63.54 L175.63 65.22 L175.63 66.34 L175.18 68.02 L174.28 69.14 L173.38 69.70 L172.03 69.70 L171.13 69.14 L170.23 68.02 M179.42 57.94 L179.42 67.46 L179.87 69.14 L180.77 69.70 L181.67 69.70 M178.07 61.86 L181.22 61.86 M184.03 57.94 L184.48 58.50 L184.93 57.94 L184.48 57.38 L184.03 57.94 M184.48 61.86 L184.48 69.70 M193.18 63.54 L192.28 62.42 L191.38 61.86 L190.03 61.86 L189.13 62.42 L188.23 63.54 L187.78 65.22 L187.78 66.34 L188.23 68.02 L189.13 69.14 L190.03 69.70 L191.38 69.70 L192.28 69.14 L193.18 68.02 M201.50 61.86 L201.50 69.70 M201.50 63.54 L200.60 62.42 L199.70 61.86 L198.35 61.86 L197.45 62.42 L196.55 63.54 L196.10 65.22 L196.10 66.34 L196.55 68.02 L197.45 69.14 L198.35 69.70 L199.70 69.70 L200.60 69.14 L201.50 68.02 M205.26 57.94 L205.26 69.70 M219.52 55.70 L218.62 56.82 L217.72 58.50 L216.82 60.74 L216.37 63.54 L216.37 65.78 L216.82 68.58 L217.72 70.82 L218.62 72.50 L219.52 73.62 M222.88 57.94 L222.88 69.70 M222.88 57.94 L226.93 57.94 L228.28 58.50 L228.73 59.06 L229.18 60.18 L229.18 61.30 L228.73 62.42 L228.28 62.98 L226.93 63.54 L222.88 63.54 M226.03 63.54 L229.18 69.70 M233.41 69.14 L232.96 69.70 L232.51 69.14 L232.96 68.58 L233.41 69.14 L233.41 70.26 L232.96 71.38 L232.51 71.94 M249.97 61.86 L249.52 63.54 L248.62 64.66 L247.27 65.22 L246.82 65.22 L245.47 64.66 L244.57 63.54 L244.12 61.86 L244.12 61.30 L244.57 59.62 L245.47 58.50 L246.82 57.94 L247.27 57.94 L248.62 58.50 L249.52 59.62 L249.97 61.86 L249.97 64.66 L249.52 67.46 L248.62 69.14 L247.27 69.70 L246.37 69.70 L245.02 69.14 L244.57 68.02 M253.80 60.74 L253.80 60.18 L254.25 59.06 L254.70 58.50 L255.60 57.94 L257.40 57.94 L258.30 58.50 L258.75 59.06 L259.20 60.18 L259.20 61.30 L258.75 62.42 L257.85 64.10 L253.35 69.70 L259.65 69.70 M265.29 57.94 L263.94 58.50 L263.04 60.18 L262.59 62.98 L262.59 64.66 L263.04 67.46 L263.94 69.14 L265.29 69.70 L266.19 69.70 L267.54 69.14 L268.44 67.46 L268.88 64.66 L268.88 62.98 L268.44 60.18 L267.54 58.50 L266.19 57.94 L265.29 57.94 M272.30 64.66 L280.40 64.66 M285.17 60.18 L286.07 59.62 L287.42 57.94 L287.42 69.70 M293.50 60.74 L293.50 60.18 L293.95 59.06 L294.40 58.50 L295.31 57.94 L297.10 57.94 L298.00 58.50 L298.45 59.06 L298.90 60.18 L298.90 61.30 L298.45 62.42 L297.56 64.10 L293.06 69.70 L299.35 69.70 M304.99 57.94 L303.64 58.50 L302.74 60.18 L302.29 62.98 L302.29 64.66 L302.74 67.46 L303.64 69.14 L304.99 69.70 L305.89 69.70 L307.24 69.14 L308.14 67.46 L308.59 64.66 L308.59 62.98 L308.14 60.18 L307.24 58.50 L305.89 57.94 L304.99 57.94 M314.22 57.94 L312.87 58.50 L311.97 60.18 L311.52 62.98 L311.52 64.66 L311.97 67.46 L312.87 69.14 L314.22 69.70 L315.12 69.70 L316.47 69.14 L317.37 67.46 L317.82 64.66 L317.82 62.98 L317.37 60.18 L316.47 58.50 L315.12 57.94 L314.22 57.94 M333.07 63.54 L332.62 62.42 L331.27 61.86 L329.92 61.86 L328.57 62.42 L328.12 63.54 L328.57 64.66 L329.47 65.22 L331.72 65.78 L332.62 66.34 L333.07 67.46 L333.07 68.02 L332.62 69.14 L331.27 69.70 L329.92 69.70 L328.57 69.14 L328.12 68.02 M335.95 55.70 L336.85 56.82 L337.75 58.50 L338.65 60.74 L339.10 63.54 L339.10 65.78 L338.65 68.58 L337.75 70.82 L336.85 72.50 L335.95 73.62" stroke="#000" stroke-width="1.90" fill="none" stroke-linecap="butt" stroke-linejoin="round"/>
</svg>
</body></html>
